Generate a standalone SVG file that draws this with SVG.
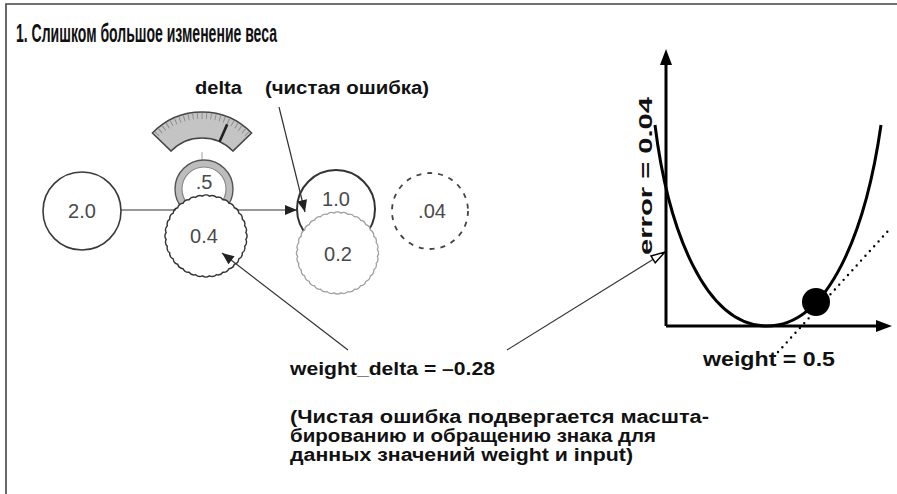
<svg xmlns="http://www.w3.org/2000/svg" xmlns:xlink="http://www.w3.org/1999/xlink" width="897" height="494" viewBox="0 0 897 494">
<style>
.lbl{font-family:"Liberation Sans",Arial,sans-serif;font-weight:bold;fill:#111}
.nt{font-family:"Liberation Sans",Arial,sans-serif;font-size:20px;fill:#4a4a4a;text-anchor:middle}
.node{fill:#fff;stroke:#3a3a3a;stroke-width:1.6}
.conn{fill:none;stroke:#333;stroke-width:1.2}
.axis{fill:none;stroke:#000;stroke-width:3}
</style>
<defs>
<path id="scallop" d="M-3.486,-39.848 a6,6 0 0 1 6.973,0 a6,6 0 0 1 6.867,1.211 a6,6 0 0 1 6.553,2.385 a6,6 0 0 1 6.039,3.487 a6,6 0 0 1 5.341,4.482 a6,6 0 0 1 4.482,5.341 a6,6 0 0 1 3.487,6.039 a6,6 0 0 1 2.385,6.553 a6,6 0 0 1 1.211,6.867 a6,6 0 0 1 0,6.973 a6,6 0 0 1 -1.211,6.867 a6,6 0 0 1 -2.385,6.553 a6,6 0 0 1 -3.487,6.039 a6,6 0 0 1 -4.482,5.341 a6,6 0 0 1 -5.341,4.482 a6,6 0 0 1 -6.039,3.487 a6,6 0 0 1 -6.553,2.385 a6,6 0 0 1 -6.867,1.211 a6,6 0 0 1 -6.973,0 a6,6 0 0 1 -6.867,-1.211 a6,6 0 0 1 -6.553,-2.385 a6,6 0 0 1 -6.039,-3.487 a6,6 0 0 1 -5.341,-4.482 a6,6 0 0 1 -4.482,-5.341 a6,6 0 0 1 -3.487,-6.039 a6,6 0 0 1 -2.385,-6.553 a6,6 0 0 1 -1.211,-6.867 a6,6 0 0 1 0,-6.973 a6,6 0 0 1 1.211,-6.867 a6,6 0 0 1 2.385,-6.553 a6,6 0 0 1 3.487,-6.039 a6,6 0 0 1 4.482,-5.341 a6,6 0 0 1 5.341,-4.482 a6,6 0 0 1 6.039,-3.487 a6,6 0 0 1 6.553,-2.385 a6,6 0 0 1 6.867,-1.211 Z"/>
<marker id="ah" viewBox="0 0 12 10" refX="12" refY="5" markerWidth="13" markerHeight="10" markerUnits="userSpaceOnUse" orient="auto"><path d="M0,0 L12,5 L0,10 Z" fill="#222"/></marker>
<marker id="aho" viewBox="0 0 16 10" refX="15" refY="5" markerWidth="16" markerHeight="10" markerUnits="userSpaceOnUse" orient="auto"><path d="M1,1 L15,5 L1,9 Z" fill="#fff" stroke="#000" stroke-width="1.4"/></marker>
</defs>

<g id="frame" fill="none" stroke="#444" stroke-width="1.6">
<path d="M6,494 V4 H897"/>
</g>

<text id="title" class="lbl" x="16" y="42" font-size="25" textLength="261" lengthAdjust="spacingAndGlyphs">1. Слишком большое изменение веса</text>

<g id="gauge">
<path d="M152.4,133.1 A69,69 0 0 1 251.6,133.1 L232.9,151.1 A43,43 0 0 0 171.1,151.1 Z" fill="#c4c4c4" stroke="#444" stroke-width="1.5"/>
<path d="M156.8,134.2 A65,65 0 0 1 247.2,134.2" fill="none" stroke="#8a8a8a" stroke-width="6" stroke-dasharray="0.9 3.6"/>
<line x1="219.5" y1="141.7" x2="227.2" y2="124.4" stroke="#222" stroke-width="2.6"/>
<line x1="202" y1="152" x2="202" y2="162" stroke="#b0b0b0" stroke-width="1.2"/>
</g>

<g id="node-weight">
<circle cx="204" cy="189" r="29" fill="#bdbdbd" stroke="#555" stroke-width="1.4"/>
<circle cx="204" cy="189" r="22" fill="#fff" stroke="#888" stroke-width="1.2"/>
<text class="nt" x="204" y="189" font-size="19">.5</text>
</g>

<g id="node-input">
<circle class="node" cx="82" cy="211" r="39"/>
<text class="nt" x="82" y="218" font-size="22">2.0</text>
</g>

<g id="node-weight-new">
<use xlink:href="#scallop" href="#scallop" transform="translate(206,236)" fill="#fff" stroke="#333" stroke-width="1.4"/>
<text class="nt" x="204" y="243">0.4</text>
</g>

<g id="node-pred">
<circle cx="336" cy="209" r="39" fill="#fff" stroke="#333" stroke-width="2"/>
<text class="nt" x="336" y="206">1.0</text>
</g>

<g id="node-goal">
<use xlink:href="#scallop" href="#scallop" transform="translate(337.5,253)" fill="#fff" stroke="#a0a0a0" stroke-width="1.3"/>
<text class="nt" x="338" y="261" fill="#666">0.2</text>
</g>

<g id="node-error">
<circle cx="430" cy="211" r="38" fill="none" stroke="#444" stroke-width="1.8" stroke-dasharray="5 6"/>
<text class="nt" x="432" y="218">.04</text>
</g>

<g id="chart">
<path d="M666,326 V62" class="axis"/>
<polygon points="666,49 660,65 672,65" fill="#000"/>
<path d="M666,326 H878" class="axis"/>
<polygon points="892,326 876,320 876,332" fill="#000"/>
<path d="M655,125 C668,230 705,326 767,326 C829,326 866,230 881,125" fill="none" stroke="#000" stroke-width="3"/>
<line x1="778" y1="352" x2="888" y2="231" stroke="#000" stroke-width="2.4" stroke-linecap="round" stroke-dasharray="0 6.5"/>
<circle cx="816" cy="302" r="14" fill="#000"/>
<text class="lbl" transform="translate(652,176) rotate(-90)" text-anchor="middle" font-size="19" textLength="158" lengthAdjust="spacingAndGlyphs">error = 0.04</text>
<text class="lbl" x="703" y="366" font-size="21" textLength="132" lengthAdjust="spacingAndGlyphs">weight = 0.5</text>
</g>

<g id="labels">
<text class="lbl" x="195" y="94" font-size="18" textLength="47" lengthAdjust="spacingAndGlyphs">delta</text>
<text class="lbl" x="265" y="94" font-size="18" textLength="164" lengthAdjust="spacingAndGlyphs">(чистая ошибка)</text>
<text class="lbl" x="290" y="375" font-size="19" textLength="205" lengthAdjust="spacingAndGlyphs">weight_delta = –0.28</text>
<text class="lbl" x="290" y="423" font-size="18" textLength="419" lengthAdjust="spacingAndGlyphs">(Чистая ошибка подвергается масшта-</text>
<text class="lbl" x="290" y="442" font-size="18" textLength="366" lengthAdjust="spacingAndGlyphs">бированию и обращению знака для</text>
<text class="lbl" x="290" y="461" font-size="18" textLength="343" lengthAdjust="spacingAndGlyphs">данных значений weight и input)</text>
</g>

<g id="connectors">
<path class="conn" d="M121,210 H176 M237,210 H297" marker-end="url(#ah)"/>
<path class="conn" d="M279,107 L305,212" marker-end="url(#ah)"/>
<path class="conn" d="M348,350 L222,253" marker-end="url(#ah)"/>
<path class="conn" d="M507,350 L665,252" stroke="#000" marker-end="url(#aho)"/>
</g>
</svg>
